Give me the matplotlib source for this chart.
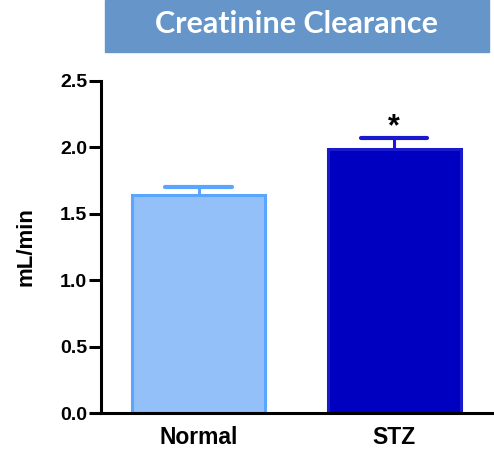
import numpy as np
import matplotlib.pyplot as plt
from matplotlib.patches import Rectangle

groups = ["Normal", "STZ"]
means = [1.64, 1.99]
errs = [0.06, 0.08]
faces = ["#93C0F8", "#0000C0"]
edges = ["#5AA5FF", "#1A1ACC"]

plt.rcParams['font.family'] = ['Liberation Sans', 'DejaVu Sans']

fig = plt.figure(figsize=(4.94, 4.50), dpi=100)
ax = fig.add_axes([0.2045, 0.0822, 0.791, 0.738])

x = np.arange(len(groups))
for i in range(len(groups)):
    top = means[i] + errs[i]
    # upper error bar only: stem + cap
    ax.vlines(x[i], means[i], top, color=edges[i], linewidth=2.2, zorder=1)
    ax.hlines(top, x[i] - 0.17, x[i] + 0.17, color=edges[i], linewidth=3,
              capstyle="round", zorder=1)
    ax.bar(x[i], means[i], width=0.68, color=faces[i], edgecolor=edges[i],
           linewidth=2.2, zorder=2)

ax.text(x[1], means[1] + errs[1] - 0.035, "*", ha="center", va="bottom",
        fontsize=22, fontweight="bold")

ax.set_xlim(-0.5, 1.5)
ax.set_ylim(0, 2.5)
ax.set_yticks([0, 0.5, 1.0, 1.5, 2.0, 2.5])
ax.set_yticklabels(["0.0", "0.5", "1.0", "1.5", "2.0", "2.5"])
ax.set_xticks(x)
ax.set_xticklabels(groups, fontsize=16.5, fontweight="bold")
ax.tick_params(axis="y", length=9, width=2.2, labelsize=14, pad=1)
ax.tick_params(axis="x", length=0, pad=9)
for lab in ax.get_yticklabels():
    lab.set_fontweight("bold")
ax.set_ylabel("mL/min", fontsize=16, fontweight="bold", labelpad=17)

ax.spines["top"].set_visible(False)
ax.spines["right"].set_visible(False)
ax.spines["left"].set_linewidth(2.2)
ax.spines["bottom"].set_linewidth(2.2)

# title banner
fig.patches.append(Rectangle((0.2126, 0.8844), 0.777, 0.1156,
                             transform=fig.transFigure, color="#6595C9"))
fig.text(0.601, 0.947, "Creatinine Clearance", ha="center", va="center",
         color="white", fontsize=22, fontweight="bold", family="Lato")

fig.savefig("out.png", dpi=100)
